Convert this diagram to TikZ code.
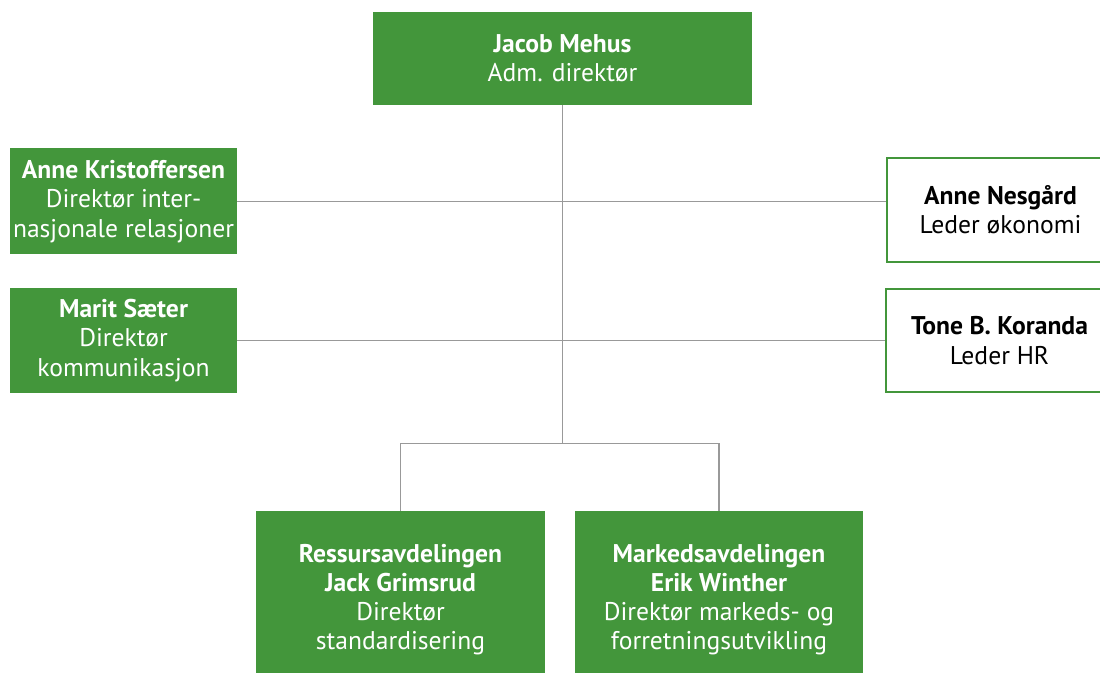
\documentclass[tikz,border=0pt]{standalone}
\usepackage{fontspec}
\setmainfont{PT Sans}
\usetikzlibrary{positioning, calc}
\definecolor{orggreen}{HTML}{43963B}
\definecolor{linegray}{HTML}{999999}
\tikzset{
  lead/.style  = {rectangle, fill=orggreen, text=white,
                  align=center, inner sep=0pt,
                  font=\fontsize{12.8}{14.6}\selectfont},
  staff/.style = {rectangle, draw=orggreen, line width=0.7pt,
                  fill=white, text=black,
                  align=center, inner sep=0pt,
                  font=\fontsize{12.8}{14.6}\selectfont},
  link/.style  = {draw=linegray, line width=0.6pt}
}

\begin{document}
\begin{tikzpicture}[x=0.5pt, y=-0.5pt]

\useasboundingbox (0,0) rectangle (1100,673);

% Top
\node[ lead, minimum width=189.5pt, minimum height=46.5pt
] at (562.5, 58.5) (boss) {
    \textbf{Jacob Mehus}\\Adm. direktør
};

% Left side
\node[ lead, minimum width=113.5pt, minimum height=53pt
] at (123.5, 201.5) (intl) {
    \textbf{Anne Kristoffersen}\\Direktør inter-\\nasjonale relasjoner
};

\node[ lead, minimum width=113.5pt, minimum height=52.5pt
] at (123.5, 340.5) (komm) {
    \textbf{Marit Sæter}\\Direktør\\kommunikasjon
};

% Right side
\node[ staff, minimum width=113.5pt, minimum height=52pt
] at (1000.5, 210) (oko) {
    \textbf{Anne Nesgård}\\Leder økonomi
};

\node[ staff, minimum width=113.5pt, minimum height=51.5pt
] at (999.5, 340.5) (hr) {
    \textbf{Tone B. Koranda}\\Leder HR
};

% Bottom
\node[ lead, minimum width=144.5pt, minimum height=88.5pt
] at (400.5, 599.5) (ress) {
    \textbf{Ressursavdelingen}\\\textbf{Jack Grimsrud}\\Direktør\\standardisering
};

\node[ lead, minimum width=144pt, minimum height=88.5pt
] at (719, 599.5) (mark) {
    \textbf{Markedsavdelingen}\\\textbf{Erik Winther}\\Direktør markeds- og\\forretningsutvikling
};

\coordinate (split) at (boss.south |- 0, 443.7);

\draw[link] (boss.south) -- (split);
\draw[link] (intl.east) -- (oko.west |- intl.east);
\draw[link] (komm.east) -- (hr.west |- komm.east);
\draw[link] (ress.north) |- (split) -| (mark.north);

\end{tikzpicture}
\end{document}
